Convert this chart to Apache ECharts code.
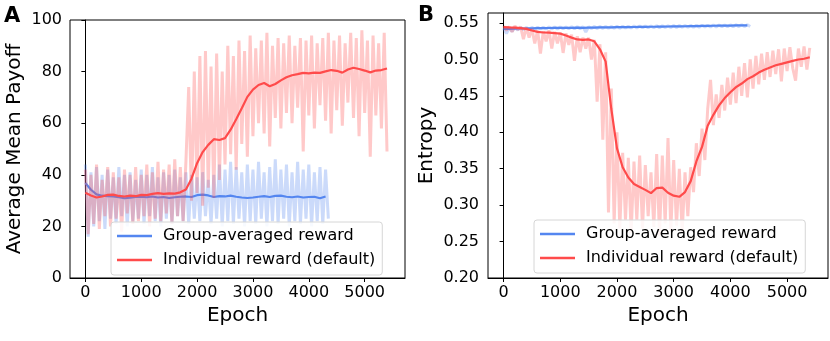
<!DOCTYPE html>
<html>
<head>
<meta charset="utf-8">
<script src="https://cdn.jsdelivr.net/npm/echarts@6/dist/echarts.min.js"></script>
<style>
  html, body { margin: 0; padding: 0; background: #fff; }
  #main { width: 830px; height: 341px; }
</style>
</head>
<body>
<div id="main"></div>
<script>
// raw curves are sampled every 50 epochs, smoothed curves every 100 epochs
const RAW_STEP = 50;
const SMOOTH_STEP = 100;

const xTicks = [0, 1000, 2000, 3000, 4000, 5000];
const payoffTicks = [0, 20, 40, 60, 80, 100];
const entropyTicks = [0.20, 0.25, 0.30, 0.35, 0.40, 0.45, 0.50, 0.55];

const NAME_GROUP = 'Group-averaged reward';
const NAME_INDIV = 'Individual reward (default)';

// ---- Panel A: average mean payoff ----
const payoffGroupRaw = [
  44, 16, 41, 20, 43, 22, 40, 19, 42, 23, 39, 21,
  43, 24, 40, 20, 41, 22, 38, 23, 42, 21, 40, 24,
  43, 22, 39, 20, 41, 23, 40, 21, 42, 24, 39, 22,
  41, 21, 40, 23, 39, 22, 41, 24, 38, 21, 40, 23,
  44, 20, 42, 22, 45, 21, 43, 23, 41, 20, 44, 22,
  42, 21, 45, 23, 41, 20, 43, 22, 46, 21, 42, 23,
  44, 20, 41, 22, 45, 21, 42, 23, 44, 20, 41, 22,
  43, 21, 42, 23
];
const payoffGroupSmooth = [
  36.8, 34.2, 32.4, 31.9, 31.7, 31.6, 31.3, 30.9, 31.1, 31.4, 31.5,
  31.3, 31.6, 31.2, 31.4, 31.0, 31.3, 31.5, 31.6, 31.4, 32.1,
  32.3, 32.0, 31.4, 31.7, 31.6, 31.9, 31.5, 31.2, 31.0, 31.2,
  31.5, 31.7, 31.4, 31.8, 31.9, 31.5, 31.3, 31.6, 31.2, 31.4,
  31.5, 30.9, 31.6
];
const payoffIndivRaw = [
  42, 17, 40, 21, 44, 19, 38, 24, 43, 20,
  41, 23, 39, 18, 42, 25, 40, 21, 43, 22,
  40, 24, 44, 20, 41, 23, 45, 22, 42, 25,
  44, 21, 46, 24, 43, 22, 45, 74, 30, 80,
  33, 86, 28, 88, 35, 82, 31, 87, 38, 80,
  44, 90, 48, 86, 42, 92, 52, 88, 47, 94,
  55, 89, 60, 92, 56, 95, 51, 90, 62, 93,
  58, 91, 64, 94, 60, 90, 66, 93, 49, 92,
  63, 94, 58, 91, 67, 93, 61, 95, 56, 92,
  65, 94, 59, 91, 68, 95, 62, 93, 55, 96,
  64, 92, 47, 94, 63, 91, 58, 95, 49
];
const payoffIndivSmooth = [
  33.0, 32.0, 31.2, 31.6, 32.2, 32.3, 31.8, 31.6, 31.9, 31.7, 32.2,
  32.1, 32.6, 32.9, 32.6, 32.8, 32.7, 33.2, 34.3, 38.5, 44.5,
  48.8, 51.6, 53.8, 53.5, 54.2, 57.5, 61.5, 65.8, 70.2, 73.0,
  74.8, 75.6, 74.3, 75.2, 76.6, 77.8, 78.6, 79.0, 79.5, 79.3,
  79.6, 79.5, 80.1, 80.6, 80.3, 79.6, 80.8, 81.5, 81.0, 80.4,
  79.7, 80.4, 80.6, 81.2
];

// ---- Panel B: entropy ----
const entropyGroupRaw = [
  0.5428, 0.5355, 0.5432, 0.5385, 0.5436, 0.5405, 0.5438, 0.5410, 0.5440, 0.5412,
  0.5441, 0.5415, 0.5443, 0.5417, 0.5444, 0.5418, 0.5445, 0.5420, 0.5446, 0.5419,
  0.5447, 0.5421, 0.5447, 0.5422, 0.5448, 0.5420, 0.5449, 0.5423, 0.5449, 0.5375,
  0.5450, 0.5425, 0.5451, 0.5426, 0.5452, 0.5427, 0.5453, 0.5428, 0.5454, 0.5429,
  0.5455, 0.5430, 0.5456, 0.5431, 0.5457, 0.5432, 0.5458, 0.5433, 0.5459, 0.5434,
  0.5460, 0.5435, 0.5461, 0.5436, 0.5462, 0.5437, 0.5463, 0.5438, 0.5464, 0.5439,
  0.5465, 0.5440, 0.5466, 0.5441, 0.5467, 0.5442, 0.5468, 0.5443, 0.5469, 0.5444,
  0.5470, 0.5445, 0.5471, 0.5446, 0.5472, 0.5447, 0.5473, 0.5448, 0.5474, 0.5449,
  0.5475, 0.5450, 0.5476, 0.5451, 0.5477, 0.5452, 0.5478, 0.5453
];
const entropyGroupSmooth = [
  0.5418, 0.5420, 0.5423, 0.5425, 0.5426, 0.5428, 0.5430, 0.5431, 0.5432, 0.5433, 0.5434,
  0.5434, 0.5435, 0.5436, 0.5433, 0.5437, 0.5438, 0.5440, 0.5441, 0.5442, 0.5443,
  0.5444, 0.5445, 0.5446, 0.5447, 0.5448, 0.5449, 0.5450, 0.5452, 0.5453, 0.5454,
  0.5455, 0.5456, 0.5458, 0.5459, 0.5460, 0.5461, 0.5463, 0.5464, 0.5465, 0.5466,
  0.5467, 0.5468, 0.5469
];
const entropyIndivRaw = [
  0.546, 0.540, 0.545, 0.538, 0.546, 0.541, 0.545, 0.528, 0.544, 0.530,
  0.542, 0.522, 0.540, 0.508, 0.539, 0.525, 0.540, 0.515, 0.538, 0.522,
  0.537, 0.509, 0.536, 0.520, 0.534, 0.498, 0.532, 0.510, 0.530, 0.515,
  0.530, 0.500, 0.527, 0.442, 0.521, 0.390, 0.510, 0.290, 0.460, 0.275,
  0.400, 0.268, 0.372, 0.280, 0.365, 0.262, 0.360, 0.280, 0.368, 0.268,
  0.355, 0.285, 0.345, 0.270, 0.370, 0.258, 0.368, 0.275, 0.392, 0.265,
  0.362, 0.272, 0.350, 0.262, 0.345, 0.285, 0.352, 0.318, 0.385, 0.340,
  0.405, 0.362, 0.432, 0.472, 0.410, 0.452, 0.420, 0.465, 0.430, 0.475,
  0.438, 0.482, 0.440, 0.490, 0.450, 0.495, 0.448, 0.500, 0.460, 0.505,
  0.466, 0.508, 0.472, 0.510, 0.476, 0.512, 0.480, 0.514, 0.470, 0.515,
  0.484, 0.517, 0.488, 0.471, 0.515, 0.490, 0.518, 0.486, 0.516
];
const entropyIndivSmooth = [
  0.5445, 0.5440, 0.5438, 0.5430, 0.5420, 0.5398, 0.5378, 0.5370, 0.5368, 0.5362, 0.5355,
  0.5330, 0.5300, 0.5275, 0.5268, 0.5275, 0.5250, 0.5140, 0.4970, 0.4320, 0.3780,
  0.3520, 0.3380, 0.3290, 0.3250, 0.3210, 0.3165, 0.3235, 0.3240, 0.3170, 0.3130,
  0.3115, 0.3180, 0.3330, 0.3600, 0.3800, 0.4090, 0.4240, 0.4370, 0.4470, 0.4550,
  0.4620, 0.4670, 0.4730, 0.4770, 0.4820, 0.4860, 0.4890, 0.4920, 0.4940, 0.4960,
  0.4980, 0.5000, 0.5010, 0.5030
];

const BLUE = '#5486f0';
const RED = '#ff4b4b';
const FONT = 'DejaVu Sans';

function toPoints(values, step) {
  return values.map((v, i) => [i * step, v]);
}

function rawSeries(name, color, values, idx) {
  return {
    name: name, type: 'line', xAxisIndex: idx, yAxisIndex: idx,
    data: toPoints(values, RAW_STEP),
    showSymbol: false, silent: true, color: color,
    lineStyle: { color: color, width: 3, opacity: 0.3 }
  };
}

function smoothSeries(name, color, values, idx) {
  return {
    name: name, type: 'line', xAxisIndex: idx, yAxisIndex: idx,
    data: toPoints(values, SMOOTH_STEP),
    showSymbol: false, color: color,
    lineStyle: { color: color, width: 2.2 }
  };
}

function xAxisFor(idx) {
  return {
    gridIndex: idx, type: 'value', min: -275, max: 5722,
    name: 'Epoch', nameLocation: 'middle', nameGap: 27,
    nameTextStyle: { fontFamily: FONT, fontSize: 20, color: '#000' },
    axisLine: { show: true, lineStyle: { color: '#000', width: 1 } },
    axisTick: { show: true, length: 4, customValues: xTicks, lineStyle: { color: '#000' } },
    axisLabel: {
      customValues: xTicks, margin: 7, fontFamily: FONT, fontSize: 16, color: '#000',
      formatter: v => String(v)
    },
    splitLine: { show: false }
  };
}

function legendFor(left, top) {
  return {
    orient: 'vertical', left: left, top: top,
    data: [NAME_GROUP, NAME_INDIV],
    icon: 'rect', itemWidth: 35, itemHeight: 2.5, itemGap: 6,
    padding: [5, 7, 6, 6],
    backgroundColor: 'rgba(255,255,255,0.85)',
    borderColor: '#d6d6d6', borderWidth: 1, borderRadius: 3,
    selectedMode: false,
    textStyle: { fontFamily: FONT, fontSize: 16, color: '#000', lineHeight: 18, padding: [0, 0, 0, 6] }
  };
}

const chart = echarts.init(document.getElementById('main'));

chart.setOption({
  animation: false,
  backgroundColor: '#fff',
  textStyle: { fontFamily: FONT },
  grid: [
    { left: 70, right: 425, top: 20, bottom: 63, show: true, borderColor: '#000', borderWidth: 1 },
    { left: 488, right: 2, top: 13, bottom: 63, show: true, borderColor: '#000', borderWidth: 1 }
  ],
  xAxis: [xAxisFor(0), xAxisFor(1)],
  yAxis: [
    {
      gridIndex: 0, type: 'value', min: 0, max: 100, interval: 20,
      name: 'Average Mean Payoff', nameLocation: 'middle', nameGap: 45,
      nameTextStyle: { fontFamily: FONT, fontSize: 20, color: '#000' },
      axisLine: { show: true, lineStyle: { color: '#000', width: 1 } },
      axisTick: { show: true, length: 4, customValues: payoffTicks, lineStyle: { color: '#000' } },
      axisLabel: { customValues: payoffTicks, margin: 8, fontFamily: FONT, fontSize: 16, color: '#000' },
      splitLine: { show: false }
    },
    {
      gridIndex: 1, type: 'value', min: 0.2, max: 0.5638,
      name: 'Entropy', nameLocation: 'middle', nameGap: 51,
      nameTextStyle: { fontFamily: FONT, fontSize: 20, color: '#000' },
      axisLine: { show: true, lineStyle: { color: '#000', width: 1 } },
      axisTick: { show: true, length: 4, customValues: entropyTicks, lineStyle: { color: '#000' } },
      axisLabel: {
        customValues: entropyTicks, margin: 9, fontFamily: FONT, fontSize: 16, color: '#000',
        formatter: v => v.toFixed(2)
      },
      splitLine: { show: false }
    }
  ],
  legend: [legendFor(111, 222), legendFor(534, 220)],
  graphic: [
    { type: 'text', left: 4, top: 6, style: { text: 'A', font: 'bold 21px "DejaVu Sans"', fill: '#000' } },
    { type: 'text', left: 418, top: 5, style: { text: 'B', font: 'bold 21px "DejaVu Sans"', fill: '#000' } }
  ],
  series: [
    rawSeries(NAME_GROUP + ' raw', BLUE, payoffGroupRaw, 0),
    smoothSeries(NAME_GROUP, BLUE, payoffGroupSmooth, 0),
    rawSeries(NAME_INDIV + ' raw', RED, payoffIndivRaw, 0),
    smoothSeries(NAME_INDIV, RED, payoffIndivSmooth, 0),
    rawSeries(NAME_GROUP + ' raw', BLUE, entropyGroupRaw, 1),
    smoothSeries(NAME_GROUP, BLUE, entropyGroupSmooth, 1),
    rawSeries(NAME_INDIV + ' raw', RED, entropyIndivRaw, 1),
    smoothSeries(NAME_INDIV, RED, entropyIndivSmooth, 1)
  ]
});
</script>
</body>
</html>
